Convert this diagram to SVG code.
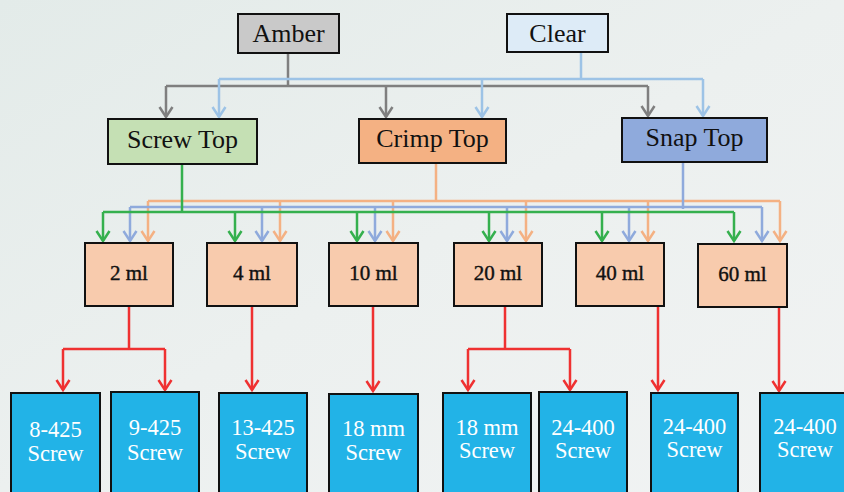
<svg xmlns="http://www.w3.org/2000/svg" width="844" height="492" viewBox="0 0 844 492">
<defs>
<linearGradient id="bg" x1="0" y1="0" x2="1" y2="1">
<stop offset="0" stop-color="#e3ebe9"/>
<stop offset="0.5" stop-color="#ecf0ef"/>
<stop offset="1" stop-color="#f1f3f3"/>
</linearGradient>
<marker id="m-gray" viewBox="-12 -8 14 16" refX="0" refY="0" markerWidth="14" markerHeight="16" markerUnits="userSpaceOnUse" orient="auto"><path d="M-10,-6.5 L0,0 L-10,6.5" fill="none" stroke="#7f7f7f" stroke-width="2.5"/></marker>
<marker id="m-lblue" viewBox="-12 -8 14 16" refX="0" refY="0" markerWidth="14" markerHeight="16" markerUnits="userSpaceOnUse" orient="auto"><path d="M-10,-6.5 L0,0 L-10,6.5" fill="none" stroke="#9dc3e6" stroke-width="2.5"/></marker>
<marker id="m-green" viewBox="-12 -8 14 16" refX="0" refY="0" markerWidth="14" markerHeight="16" markerUnits="userSpaceOnUse" orient="auto"><path d="M-10,-6.5 L0,0 L-10,6.5" fill="none" stroke="#35b04e" stroke-width="2.5"/></marker>
<marker id="m-blue" viewBox="-12 -8 14 16" refX="0" refY="0" markerWidth="14" markerHeight="16" markerUnits="userSpaceOnUse" orient="auto"><path d="M-10,-6.5 L0,0 L-10,6.5" fill="none" stroke="#8faadc" stroke-width="2.5"/></marker>
<marker id="m-orange" viewBox="-12 -8 14 16" refX="0" refY="0" markerWidth="14" markerHeight="16" markerUnits="userSpaceOnUse" orient="auto"><path d="M-10,-6.5 L0,0 L-10,6.5" fill="none" stroke="#f4b183" stroke-width="2.5"/></marker>
<marker id="m-red" viewBox="-12 -8 14 16" refX="0" refY="0" markerWidth="14" markerHeight="16" markerUnits="userSpaceOnUse" orient="auto"><path d="M-10,-6.5 L0,0 L-10,6.5" fill="none" stroke="#ef3131" stroke-width="2.5"/></marker>
</defs>
<style>
.box{stroke:#111;stroke-width:2}
.t{font-family:"Liberation Serif","DejaVu Serif",serif;text-anchor:middle;fill:#111}
.top{font-size:26px}
.sz{font-size:21px;stroke:#111;stroke-width:0.4}
.bt{font-size:22.5px;fill:#fff}
.c{fill:none;stroke-width:2.5}
.gray{stroke:#7f7f7f}
.lblue{stroke:#9dc3e6}
.green{stroke:#35b04e}
.blue{stroke:#8faadc}
.orange{stroke:#f4b183}
.red{stroke:#ef3131}
</style>
<rect x="0" y="0" width="844" height="492" fill="url(#bg)"/>

<g id="connectors">
<!-- Amber -->
<path class="c gray" d="M288,53 V86 M166,86 H648"/>
<path class="c gray" d="M166,86 V117" marker-end="url(#m-gray)"/>
<path class="c gray" d="M386,86 V117" marker-end="url(#m-gray)"/>
<path class="c gray" d="M648,86 V116" marker-end="url(#m-gray)"/>
<!-- Clear -->
<path class="c lblue" d="M581,52 V79 M219,79 H703"/>
<path class="c lblue" d="M219,79 V117" marker-end="url(#m-lblue)"/>
<path class="c lblue" d="M482,79 V117" marker-end="url(#m-lblue)"/>
<path class="c lblue" d="M703,79 V116" marker-end="url(#m-lblue)"/>
<!-- Crimp Top (orange) -->
<path class="c orange" d="M436,163 V201 M148,201 H780"/>
<path class="c orange" d="M148,201 V241" marker-end="url(#m-orange)"/>
<path class="c orange" d="M280,201 V241" marker-end="url(#m-orange)"/>
<path class="c orange" d="M393,201 V241" marker-end="url(#m-orange)"/>
<path class="c orange" d="M526,201 V241" marker-end="url(#m-orange)"/>
<path class="c orange" d="M648,201 V241" marker-end="url(#m-orange)"/>
<path class="c orange" d="M780,201 V241" marker-end="url(#m-orange)"/>
<!-- Snap Top (blue) -->
<path class="c blue" d="M683,162 V209 M130,207 H762"/>
<path class="c blue" d="M130,207 V241" marker-end="url(#m-blue)"/>
<path class="c blue" d="M262,207 V241" marker-end="url(#m-blue)"/>
<path class="c blue" d="M375,207 V241" marker-end="url(#m-blue)"/>
<path class="c blue" d="M507,207 V241" marker-end="url(#m-blue)"/>
<path class="c blue" d="M629,207 V241" marker-end="url(#m-blue)"/>
<path class="c blue" d="M762,207 V241" marker-end="url(#m-blue)"/>
<!-- Screw Top (green) -->
<path class="c green" d="M182,165 V213 M103,212 H734"/>
<path class="c green" d="M103,212 V241" marker-end="url(#m-green)"/>
<path class="c green" d="M235,212 V241" marker-end="url(#m-green)"/>
<path class="c green" d="M357,212 V241" marker-end="url(#m-green)"/>
<path class="c green" d="M489,212 V241" marker-end="url(#m-green)"/>
<path class="c green" d="M602,212 V241" marker-end="url(#m-green)"/>
<path class="c green" d="M734,212 V241" marker-end="url(#m-green)"/>
<!-- sizes to closures (red) -->
<path class="c red" d="M129,306 V349 M63,349 H165"/>
<path class="c red" d="M63,349 V390" marker-end="url(#m-red)"/>
<path class="c red" d="M165,349 V390" marker-end="url(#m-red)"/>
<path class="c red" d="M252,306 V390" marker-end="url(#m-red)"/>
<path class="c red" d="M373,306 V391" marker-end="url(#m-red)"/>
<path class="c red" d="M505,306 V349 M468,349 H570"/>
<path class="c red" d="M468,349 V390" marker-end="url(#m-red)"/>
<path class="c red" d="M570,349 V390" marker-end="url(#m-red)"/>
<path class="c red" d="M658,306 V390" marker-end="url(#m-red)"/>
<path class="c red" d="M779,306 V391" marker-end="url(#m-red)"/>
</g>

<g id="amber"><rect class="box" x="238" y="14" width="101" height="39" fill="#c9c9c9"/><text class="t top" x="288.5" y="42">Amber</text></g>
<g id="clear"><rect class="box" x="507" y="14" width="101" height="38" fill="#ddebf7"/><text class="t top" x="557.5" y="42">Clear</text></g>

<g id="screw-top"><rect class="box" x="108" y="119" width="149" height="45" fill="#c5e0b4"/><text class="t top" x="182.5" y="148">Screw Top</text></g>
<g id="crimp-top"><rect class="box" x="359" y="119" width="147" height="44" fill="#f4b183"/><text class="t top" x="432.5" y="147">Crimp Top</text></g>
<g id="snap-top"><rect class="box" x="622" y="118" width="145" height="44" fill="#8faadc"/><text class="t top" x="694.5" y="146">Snap Top</text></g>

<g id="ml2"><rect class="box" x="85" y="243" width="88" height="63" fill="#f8cbad"/><text class="t sz" x="129" y="280">2 ml</text></g>
<g id="ml4"><rect class="box" x="207" y="243" width="90" height="63" fill="#f8cbad"/><text class="t sz" x="252" y="280">4 ml</text></g>
<g id="ml10"><rect class="box" x="329" y="243" width="89" height="63" fill="#f8cbad"/><text class="t sz" x="373.5" y="280">10 ml</text></g>
<g id="ml20"><rect class="box" x="454" y="243" width="88" height="63" fill="#f8cbad"/><text class="t sz" x="498" y="280">20 ml</text></g>
<g id="ml40"><rect class="box" x="576" y="243" width="88" height="63" fill="#f8cbad"/><text class="t sz" x="620" y="280">40 ml</text></g>
<g id="ml60"><rect class="box" x="698" y="244" width="89" height="63" fill="#f8cbad"/><text class="t sz" x="742.5" y="281">60 ml</text></g>

<g id="c8-425"><rect class="box" x="11" y="393" width="89" height="110" fill="#22b3e7"/><text class="t bt" x="55.5" y="437">8-425</text><text class="t bt" x="55.5" y="461">Screw</text></g>
<g id="c9-425"><rect class="box" x="111" y="392" width="88" height="110" fill="#22b3e7"/><text class="t bt" x="155" y="435">9-425</text><text class="t bt" x="155" y="460">Screw</text></g>
<g id="c13-425"><rect class="box" x="219" y="393" width="88" height="110" fill="#22b3e7"/><text class="t bt" x="263" y="435">13-425</text><text class="t bt" x="263" y="459">Screw</text></g>
<g id="c18mm-a"><rect class="box" x="329" y="394" width="89" height="110" fill="#22b3e7"/><text class="t bt" x="373.5" y="436">18 mm</text><text class="t bt" x="373.5" y="460">Screw</text></g>
<g id="c18mm-b"><rect class="box" x="443" y="393" width="88" height="110" fill="#22b3e7"/><text class="t bt" x="487" y="435">18 mm</text><text class="t bt" x="487" y="458">Screw</text></g>
<g id="c24-400-a"><rect class="box" x="539" y="392" width="88" height="110" fill="#22b3e7"/><text class="t bt" x="583" y="435">24-400</text><text class="t bt" x="583" y="458">Screw</text></g>
<g id="c24-400-b"><rect class="box" x="651" y="393" width="87" height="110" fill="#22b3e7"/><text class="t bt" x="694.5" y="434">24-400</text><text class="t bt" x="694.5" y="457">Screw</text></g>
<g id="c24-400-c"><rect class="box" x="760" y="393" width="90" height="110" fill="#22b3e7"/><text class="t bt" x="805" y="434">24-400</text><text class="t bt" x="805" y="457">Screw</text></g>
</svg>
